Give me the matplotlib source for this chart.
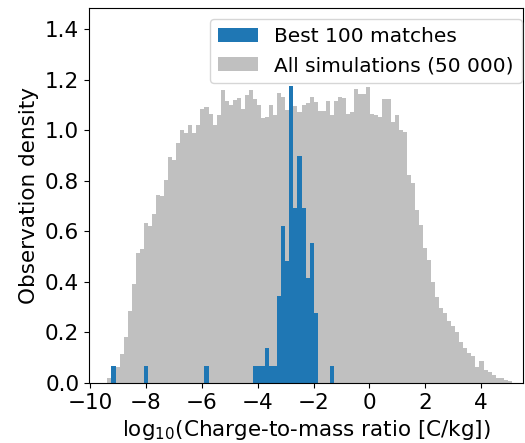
import numpy as np
from matplotlib import pyplot as plt

# shared histogram binning (log10 charge-to-mass ratio)
bin_lo, bin_hi, n_bins = -9.38, 5.10, 100

# gray: all simulations, observation density per bin
all_sims_density = [
    0.019, 0.040, 0.064, 0.113, 0.183, 0.284, 0.390, 0.516, 0.529, 0.633,
    0.620, 0.670, 0.745, 0.738, 0.804, 0.893, 0.883, 0.950, 1.000, 0.990,
    1.019, 0.990, 1.019, 1.085, 1.091, 1.065, 1.021, 1.058, 1.157, 1.117,
    1.098, 1.120, 1.126, 1.085, 1.140, 1.159, 1.124, 1.098, 1.048, 1.051,
    1.098, 1.061, 1.148, 1.130, 1.078, 1.080, 1.094, 1.071, 1.098, 1.107,
    1.130, 1.111, 1.075, 1.075, 1.117, 1.058, 1.117, 1.130, 1.128, 1.065,
    1.071, 1.163, 1.144, 1.144, 1.170, 1.065, 1.058, 1.051, 1.124, 1.124,
    1.032, 1.058, 1.001, 0.992, 0.821, 0.792, 0.686, 0.626, 0.532, 0.486,
    0.400, 0.341, 0.295, 0.275, 0.246, 0.226, 0.200, 0.161, 0.137, 0.120,
    0.108, 0.064, 0.088, 0.051, 0.042, 0.032, 0.021, 0.018, 0.012, 0.007,
]

# blue: best 100 matches, counts in the bins that are not empty
best_bin_index = [1, 9, 24, 36, 37, 38, 39, 40, 41, 42, 43, 44, 45, 46, 47, 48, 49, 50, 51, 55]
best_counts = [1, 1, 1, 1, 1, 1, 2, 1, 1, 5, 9, 7, 17, 10, 13, 10, 6, 8, 4, 1]

labels = ['Best 100 matches', 'All simulations (50 000)']

edges = np.linspace(bin_lo, bin_hi, n_bins + 1)
centers = 0.5 * (edges[:-1] + edges[1:])
width = edges[1] - edges[0]

best_per_bin = np.zeros(n_bins)
best_per_bin[best_bin_index] = best_counts
n_best = best_per_bin.sum()

fig = plt.figure(figsize=(5.25, 4.43), dpi=100)
ax = fig.add_axes([0.1695, 0.1354, 0.8267, 0.8466])

_, _, gray = ax.hist(centers, bins=edges, weights=all_sims_density, color='silver')
_, _, blue = ax.hist(centers, bins=edges, weights=best_per_bin / (n_best * width),
                     color='tab:blue')

ax.set_xlim(-10.04, 5.5)
ax.set_ylim(0, 1.483)
ax.set_xticks([-10, -8, -6, -4, -2, 0, 2, 4])
ax.set_yticks([0.0, 0.2, 0.4, 0.6, 0.8, 1.0, 1.2, 1.4])
ax.tick_params(labelsize=15.5)

ax.set_xlabel('log$_{10}$(Charge-to-mass ratio [C/kg])', fontsize=15.5)
ax.set_ylabel('Observation density', fontsize=15.5)

ax.legend([blue[0], gray[0]], labels, loc='upper right', fontsize=14.5,
          bbox_to_anchor=(522 / 525, 1 - 19 / 443), bbox_transform=fig.transFigure,
          borderaxespad=0)

fig.savefig('out.png', dpi=100)
